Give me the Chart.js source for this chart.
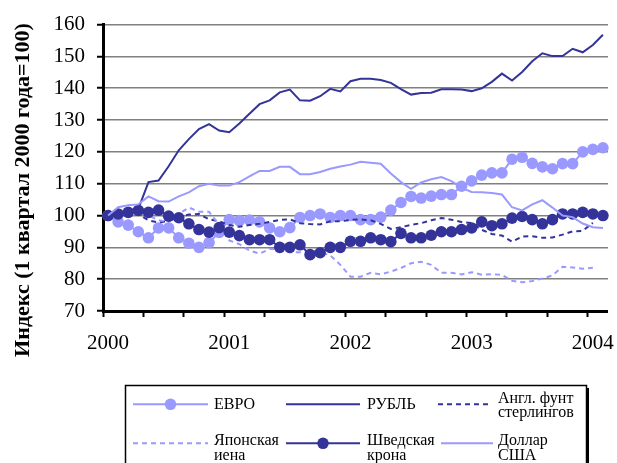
<!DOCTYPE html>
<html><head><meta charset="utf-8">
<script src="https://cdn.jsdelivr.net/npm/chart.js@4/dist/chart.umd.min.js"></script>
<style>html,body{margin:0;padding:0;background:#fff}#wrap{width:617px;height:463px;position:relative}</style>
</head><body><div id="wrap"><canvas id="c" width="617" height="463"></canvas></div>
<script>
// Monthly categories, Jan 2000 – Feb 2004
const categories = [
 '01.2000','02.2000','03.2000','04.2000','05.2000','06.2000','07.2000','08.2000','09.2000','10.2000','11.2000','12.2000',
 '01.2001','02.2001','03.2001','04.2001','05.2001','06.2001','07.2001','08.2001','09.2001','10.2001','11.2001','12.2001',
 '01.2002','02.2002','03.2002','04.2002','05.2002','06.2002','07.2002','08.2002','09.2002','10.2002','11.2002','12.2002',
 '01.2003','02.2003','03.2003','04.2003','05.2003','06.2003','07.2003','08.2003','09.2003','10.2003','11.2003','12.2003',
 '01.2004','02.2004'];
const yearLabels = ['2000','2001','2002','2003','2004'];
const yTicks = [70,80,90,100,110,120,130,140,150,160];

const euro = [100,98,97,94.9,93,96.1,96.1,93,91.3,90,91.5,94.7,98.7,98.4,98.6,98,96.1,94.9,96.2,99.4,100,100.5,99.4,100,100,98.7,98.7,99.5,101.7,104.1,106,105.5,106.1,106.6,106.6,109.2,110.9,112.7,113.4,113.4,117.7,118.3,116.4,115.3,114.7,116.3,116.3,120,120.8,121.3];
const ruble = [100,100.8,101.3,102.1,110.5,111,115.5,120.5,124,127.2,128.7,126.7,126.2,128.9,132,135,136.2,138.7,139.6,136.2,136.1,137.5,139.8,139,142.2,143,143,142.6,141.7,139.7,138,138.5,138.6,139.7,139.7,139.6,139.1,140,142,144.6,142.4,145.1,148.5,151,150.1,150.1,152.4,151.3,153.6,156.8];
const gbp = [100,100.3,100.5,100.4,98.5,97.8,98.3,99.5,100.3,100.5,98.8,98.2,97,96.5,97,97.4,98,98.6,98.8,97.6,97.3,97.2,98.2,98.2,98.6,98.8,98.5,97.4,95.8,96.3,97.1,97.6,98.5,99.2,98.7,98,97.6,95.5,94.2,93.7,91.8,93.4,93.5,93,93.1,94,95,95.2,97.7,null];
const jpy = [100,101,102,101.5,100,98.5,98,100.5,102.5,101.2,101.2,97,92.2,91,89,88,89.5,89.5,88.5,88.5,89,88.5,87.5,84.5,80.8,80.8,82,81.5,82.4,83.5,85,85.5,84.5,82,82,81.5,82.2,81.4,81.6,81.3,79.5,79,79.4,80.2,81.2,83.9,83.7,83.3,83.6,null];
const sek = [100,100.5,101,101.6,101,101.7,99.8,99.3,97.4,95.6,94.8,96.2,94.8,93.7,92.4,92.4,92.4,90,90,90.8,87.7,88.3,90,90,91.9,91.9,93,92.4,91.8,94.4,93,93,93.8,94.9,94.9,95.6,96.1,98,96.8,97.4,99.2,99.7,98.7,97.4,98.7,100.5,100.5,101,100.5,100];
const usd = [100,102.6,103.2,103.5,106,104.5,104.4,106,107.3,109.2,110,109.4,109.4,110.5,112.3,114,114,115.3,115.3,113,113,113.7,114.7,115.4,116,116.9,116.6,116.3,113.2,110.5,108.4,110.4,111.4,112.1,110.8,108.7,107.4,107.3,107.1,106.6,102.6,101.6,103.5,104.8,102.5,100,99.5,97.5,96.3,96.1];

const seriesNames = ['ЕВРО','РУБЛЬ','Англ. фунт\nстерлингов','Японская\nиена','Шведская\nкрона','Доллар\nСША'];
const yTitle = 'Индекс (1 квартал 2000 года=100)';

const LIGHT = '#9999FF', DARK = '#333399';
const FONT = 'Liberation Serif, Times New Roman, serif';

function ds(label, data, color, opts) {
  return Object.assign({label, data, borderColor: color, backgroundColor: color,
    pointBackgroundColor: color, pointBorderColor: color, borderWidth: 2,
    pointRadius: 0, pointHoverRadius: 0, tension: 0, spanGaps: false}, opts);
}

const datasets = [
  ds(seriesNames[0], euro, LIGHT, {pointRadius: 5.8, pointBorderWidth: 0, order: 6}),
  ds(seriesNames[1], ruble, DARK, {order: 5}),
  ds(seriesNames[2], gbp, DARK, {borderDash: [5,4], order: 4}),
  ds(seriesNames[3], jpy, LIGHT, {borderDash: [5,4], order: 3}),
  ds(seriesNames[4], sek, DARK, {pointRadius: 5.8, pointBorderWidth: 0, order: 2}),
  ds(seriesNames[5], usd, LIGHT, {order: 1})
];

const legendLayout = [
  {ds:0, x0:133, x1:208, tx:214, sy:404.3, base:[409]},
  {ds:1, x0:286, x1:360, tx:367, sy:404.3, base:[409]},
  {ds:2, x0:438, x1:492, tx:498, sy:404.3, base:[402.5,416.5]},
  {ds:3, x0:133, x1:208, tx:214, sy:443.3, base:[445,459.5]},
  {ds:4, x0:286, x1:360, tx:367, sy:443.3, base:[445,459.5]},
  {ds:5, x0:441, x1:493, tx:498, sy:443.3, base:[445,459.5]}
];

const customDraw = {
  id: 'customDraw',
  afterDraw(chart) {
    const ctx = chart.ctx;
    // Y title
    ctx.save();
    ctx.translate(23, 190);
    ctx.rotate(-Math.PI/2);
    ctx.font = 'bold 22px ' + FONT;
    ctx.fillStyle = '#000';
    ctx.textAlign = 'center';
    ctx.textBaseline = 'middle';
    ctx.fillText(yTitle, 0, 0);
    ctx.restore();
    // Legend box
    ctx.save();
    ctx.fillStyle = '#000';
    ctx.fillRect(587, 388, 2, 80);
    ctx.strokeStyle = '#000';
    ctx.lineWidth = 1.5;
    ctx.strokeRect(125.5, 385.5, 461, 90);
    ctx.font = '16px ' + FONT;
    ctx.textBaseline = 'alphabetic';
    ctx.textAlign = 'left';
    legendLayout.forEach(it => {
      const d = chart.data.datasets[it.ds];
      ctx.save();
      ctx.strokeStyle = d.borderColor;
      ctx.lineWidth = d.borderWidth;
      ctx.setLineDash(d.borderDash || []);
      ctx.beginPath();
      ctx.moveTo(it.x0, it.sy);
      ctx.lineTo(it.x1, it.sy);
      ctx.stroke();
      ctx.restore();
      if (d.pointRadius > 0) {
        ctx.beginPath();
        ctx.fillStyle = d.pointBackgroundColor;
        ctx.arc((it.x0+it.x1)/2, it.sy, d.pointRadius, 0, Math.PI*2);
        ctx.fill();
      }
      ctx.fillStyle = '#000';
      d.label.split('\n').forEach((line, k) => ctx.fillText(line, it.tx, it.base[k]));
    });
    ctx.restore();
  }
};

new Chart(document.getElementById('c'), {
  type: 'line',
  data: {labels: categories, datasets},
  options: {
    responsive: false,
    animation: false,
    devicePixelRatio: 1,
    layout: {padding: {left: 0, right: 4, top: 16, bottom: 102}},
    plugins: {legend: {display: false}, tooltip: {enabled: false}},
    events: [],
    scales: {
      x: {
        type: 'category',
        offset: true,
        grid: {
          offset: true, drawOnChartArea: false, drawTicks: true, tickLength: 6, tickWidth: 2,
          tickColor: c => (c.index !== undefined && c.index % 4 === 0) ? '#000' : 'rgba(0,0,0,0)'
        },
        border: {display: true, color: '#000', width: 3},
        ticks: {
          autoSkip: false, maxRotation: 0, minRotation: 0, padding: 14, color: '#000',
          font: {family: FONT, size: 21},
          callback: (v, i) => {
            const c = categories[i];
            if (c.startsWith('01.')) { const y = c.slice(3); return yearLabels.includes(y) ? y : ''; }
            return '';
          }
        },
        afterFit: s => { s.height = 50; }
      },
      y: {
        min: 70, max: 160,
        afterBuildTicks: s => { s.ticks = yTicks.map(v => ({value: v})); },
        grid: {color: '#808080', lineWidth: 1.5, tickColor: '#000', tickLength: 6, tickWidth: 2, drawTicks: true},
        border: {display: true, color: '#000', width: 3},
        ticks: {padding: 12, color: '#000', font: {family: FONT, size: 21}},
        afterFit: s => { s.width = 103; }
      }
    }
  },
  plugins: [customDraw]
});
</script></body></html>
